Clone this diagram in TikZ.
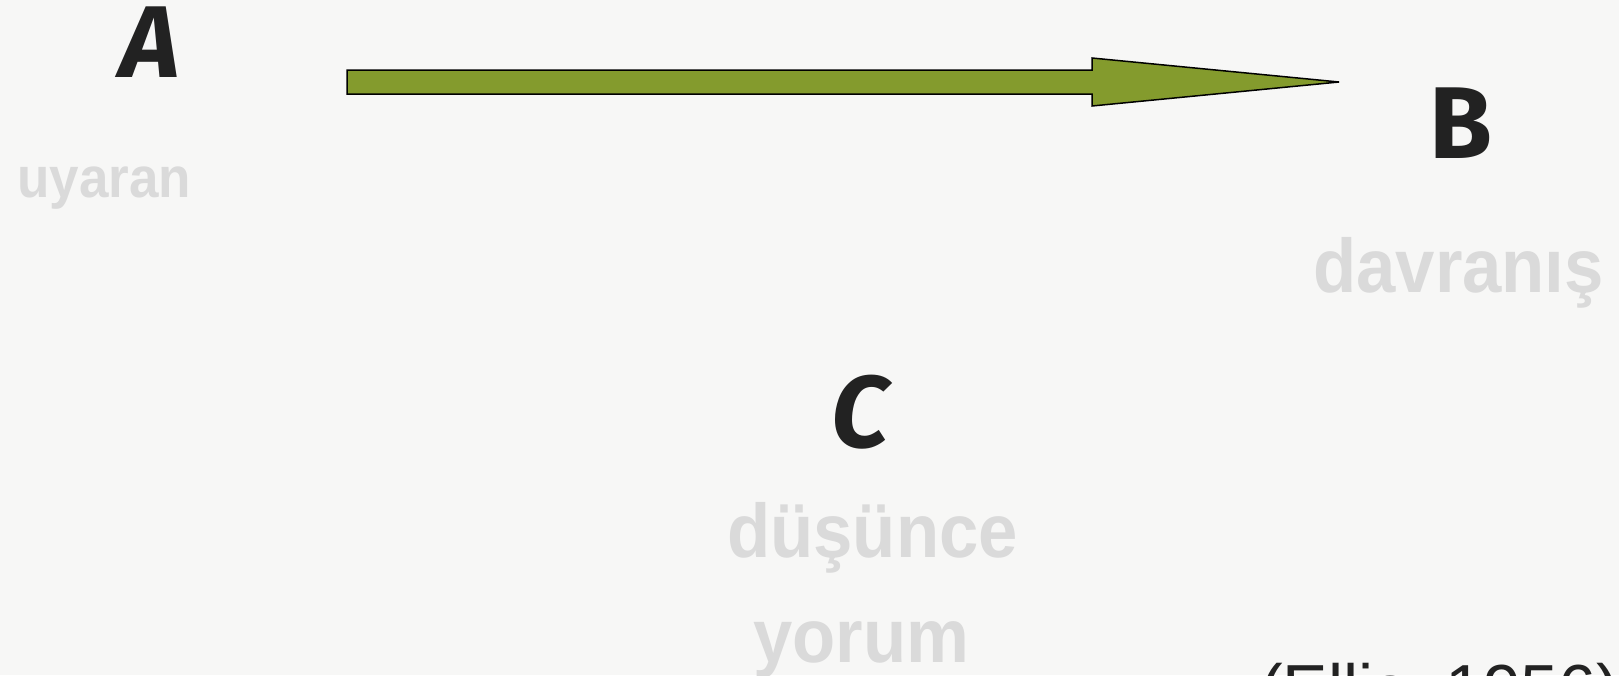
\documentclass[tikz,border=0pt]{standalone}
\usepackage{fontspec}
\usepackage{graphicx}
\setmainfont{Liberation Sans}
\newfontfamily\handfont{Fira Sans}
\definecolor{bgcol}{HTML}{F7F7F6}
\definecolor{lblgray}{HTML}{DADADA}
\definecolor{inkcol}{HTML}{222222}
\definecolor{olive}{HTML}{849B2D}
\newcommand\narrowtxt[1]{\scalebox{0.93}[1]{#1}}
\tikzset{
  lbl/.style={inner sep=0pt, text=lblgray, anchor=base west},
  big/.style={font=\fontsize{76}{82}\selectfont\bfseries},
  small/.style={font=\fontsize{57}{62}\selectfont\bfseries},
  letter/.style={inner sep=0pt, text=inkcol, anchor=base, font=\fontsize{102}{108}\selectfont\handfont\bfseries},
  blockarrow/.style={fill=olive, draw=black, line width=1.5pt, line join=miter}
}
\begin{document}
\begin{tikzpicture}[x=1pt,y=-1pt]
\useasboundingbox (0,0) rectangle (1619,675);
\clip (0,0) rectangle (1619,675);
\fill[bgcol] (0,0) rectangle (1619,675);
% letters
\node[letter] (A) at (150,77) {\itshape A};
\node[letter] (B) at (1461,158) {B};
\node[letter] (C) at (860,447) {\itshape C};
% labels
\node[lbl,small] (uyaran) at (17,197) {\narrowtxt{uyaran}};
\node[lbl,big] (davranis) at (1313,292) {\narrowtxt{davranış}};
\node[lbl,big] (dusunce) at (727,557) {\narrowtxt{düşünce}};
\node[lbl,big] (yorum) at (753,662) {\narrowtxt{yorum}};
\node[inner sep=0pt, anchor=base west, text=inkcol, font=\fontsize{68}{72}\selectfont] (ellis) at (1260,712) {(Ellis, 1956)};
% block arrow
\coordinate (s1) at (347,70);
\coordinate (s2) at (1092,70);
\coordinate (h1) at (1092,58);
\coordinate (tip) at (1339,82);
\coordinate (h2) at (1092,106);
\coordinate (s3) at (1092,94);
\coordinate (s4) at (347,94);
\draw[blockarrow] (s1) -- (s2) -- (h1) -- (tip) -- (h2) -- (s3) -- (s4) -- cycle;
\end{tikzpicture}
\end{document}
